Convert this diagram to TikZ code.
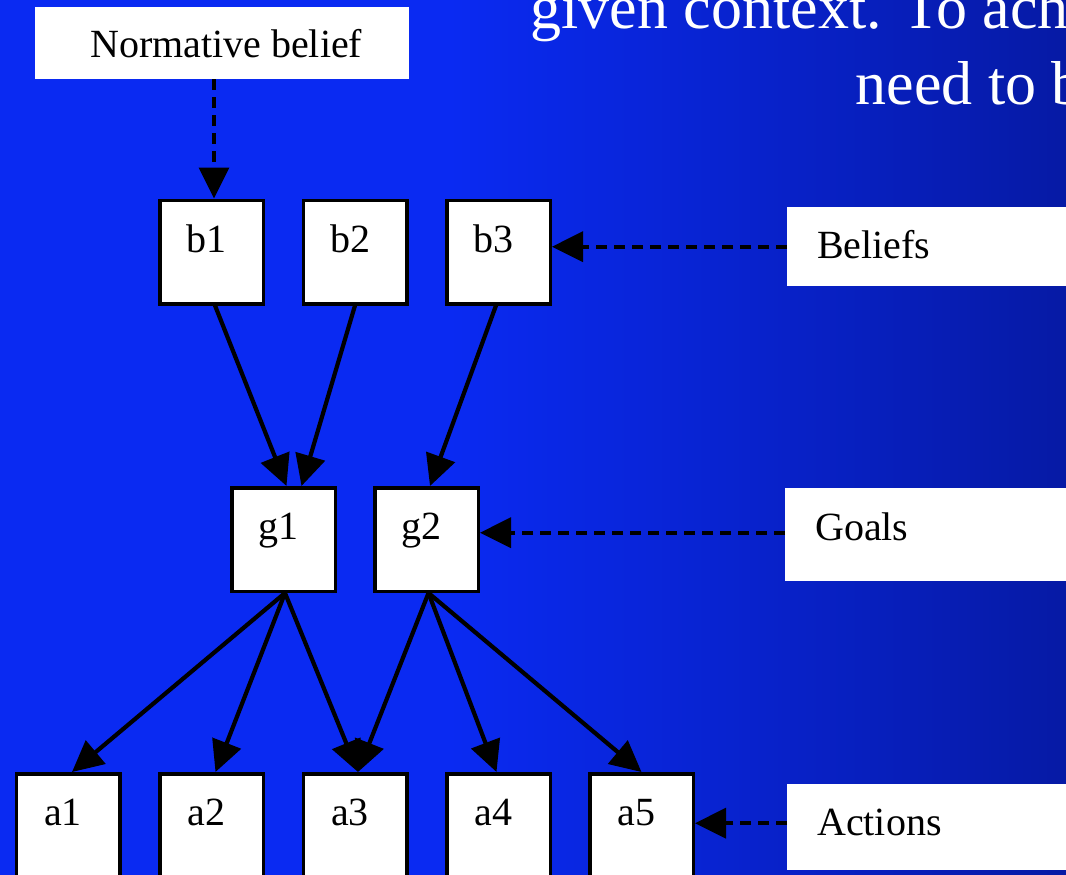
\documentclass[tikz,border=0pt]{standalone}
\usepackage{fontspec}
\setmainfont{Liberation Serif}
\usetikzlibrary{arrows.meta,calc}
\definecolor{bgA}{RGB}{10,42,242}
\definecolor{bgB}{RGB}{6,26,165}
\begin{document}
\begin{tikzpicture}[x=1pt,y=-1pt,
  lab/.style={font=\fontsize{40}{48}\selectfont},
  box/.style={draw=black, line width=3.5pt, fill=white, minimum width=103.5pt,
    minimum height=103.5pt, inner sep=0pt, text height=15pt, text depth=15pt, lab},
  tag/.style={fill=white, inner ysep=0pt, inner xsep=30pt, align=left,
    anchor=north west, lab, text width=300pt, text height=28pt},
  ntag/.style={fill=white, inner sep=0pt, anchor=north west, lab,
    minimum width=374pt, minimum height=72pt, text height=28pt, text depth=0pt},
  link/.style={line width=4.2pt, -{Triangle[length=31pt,width=30pt]}},
  dlink/.style={line width=3.6pt, -{Triangle[length=31pt,width=30pt]}, dash pattern=on 11pt off 7pt},
  head/.style={text=white, anchor=base west, font=\fontsize{62}{74}\selectfont},
]
\clip (0,0) rectangle (1066,875);
\fill[bgA] (0,0) rectangle (450,875);
\shade[left color=bgA, right color=bgB] (450,0) rectangle (1066,875);

% heading (cut off at the edge)
\node[head] (t1) at (527,29) {given context. To ach};
\node[head] (t2) at (852,104) {need to b};

% label boxes
\node[ntag] (nb) at (35,7) {\hspace*{8pt}Normative belief};
\node[tag, minimum height=79pt, text depth=5pt] (bel) at (787,207) {Beliefs};
\node[tag, minimum height=93pt, text depth=17pt] (goa) at (785,488) {Goals};
\node[tag, minimum height=86pt, text depth=12pt] (act) at (787,784) {Actions};

% beliefs
\node[box] (b1) at (211.5,252) {b1\hspace*{10pt}};
\node[box] (b2) at (355,252) {b2\hspace*{10pt}};
\node[box] (b3) at (498.5,252) {b3\hspace*{10pt}};
% goals
\node[box] (g1) at (283.5,539.5) {g1\hspace*{10pt}};
\node[box] (g2) at (426.5,539.5) {g2\hspace*{10pt}};
% actions
\node[box] (a1) at (68,825.5) {a1\hspace*{10pt}};
\node[box] (a2) at (211.5,825.5) {a2\hspace*{10pt}};
\node[box] (a3) at (355,825.5) {a3\hspace*{10pt}};
\node[box] (a4) at (498.5,825.5) {a4\hspace*{10pt}};
\node[box] (a5) at (641.5,825.5) {a5\hspace*{10pt}};

% dashed connectors
\draw[dlink] ([xshift=2.5pt]b1.north |- nb.south) -- ([xshift=2.5pt]b1.north);
\draw[dlink] (bel.west) -- (bel.west -| b3.east);
\draw[dlink] ([yshift=2pt]goa.west) -- ([yshift=2pt]goa.west -| g2.east);
\draw[dlink] ([yshift=4pt]act.west) -- ([yshift=4pt]act.west -| a5.east);

% solid connectors
\draw[link] ([xshift=3.5pt]b1.south) -- ([xshift=3pt]g1.north);
\draw[link] (b2.south) -- ([xshift=18pt]g1.north);
\draw[link] ([xshift=-2.5pt]b3.south) -- ([xshift=3.5pt]g2.north);

\draw[link] ([xshift=1.5pt]g1.south) -- ([xshift=4pt]a1.north);
\draw[link] ([xshift=1.5pt]g1.south) -- ([xshift=4pt]a2.north);
\draw[link] ([xshift=1.5pt]g1.south) -- ([xshift=3pt]a3.north);
\draw[link] ([xshift=2pt]g2.south) -- ([xshift=3pt]a3.north);
\draw[link] ([xshift=2pt]g2.south) -- ([xshift=-2pt]a4.north);
\draw[link] ([xshift=2pt]g2.south) -- (a5.north);
\end{tikzpicture}
\end{document}
